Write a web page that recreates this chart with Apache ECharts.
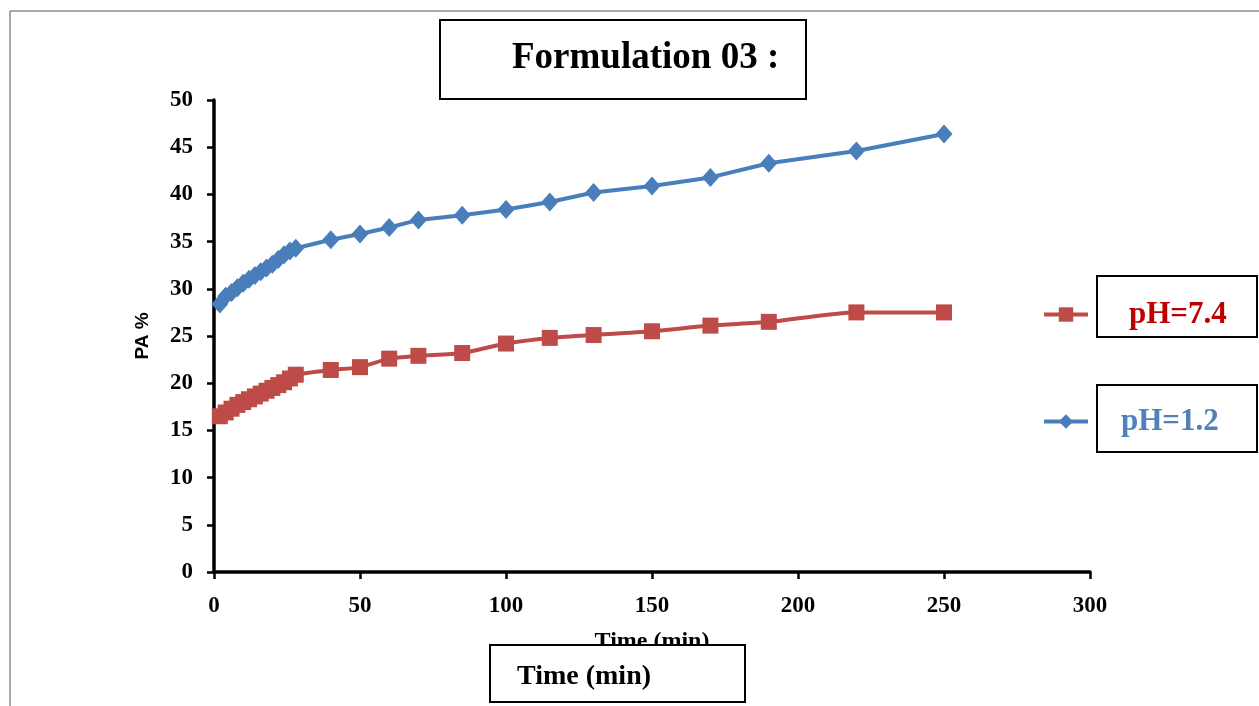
<!DOCTYPE html>
<html><head><meta charset="utf-8">
<script src="https://cdn.jsdelivr.net/npm/echarts@6/dist/echarts.min.js"></script>
<style>html,body{margin:0;padding:0;background:#fff}#c{width:1259px;height:706px}</style>
</head><body><div id="c"></div>
<script>
const titleText = "Formulation 03 :";
const xAxisName = "Time (min)";
const yAxisName = "PA %";
const seriesNames = ["pH=7.4", "pH=1.2"];
const times = [2,4,6,8,10,12,14,16,18,20,22,24,26,28,40,50,60,70,85,100,115,130,150,170,190,220,250];
const ph74 = [16.5,16.9,17.3,17.7,18.0,18.3,18.6,18.9,19.2,19.5,19.8,20.1,20.5,20.9,21.4,21.7,22.6,22.9,23.2,24.2,24.8,25.1,25.5,26.1,26.5,27.5,27.5];
const ph12 = [28.4,29.2,29.6,30.1,30.6,31.0,31.4,31.8,32.2,32.6,33.1,33.6,34.0,34.3,35.2,35.8,36.5,37.3,37.8,38.4,39.2,40.2,40.9,41.8,43.3,44.6,46.4];

const pair = (xs, ys) => xs.map((x, i) => [x, ys[i]]);
const serif = "'Liberation Serif','Times New Roman',serif";
const chart = echarts.init(document.getElementById('c'));
chart.setOption({
  animation: false,
  backgroundColor: '#fff',
  title: [
    {text: titleText, left: 507, top: 35, textStyle: {fontFamily: serif, fontWeight: 'bold', fontSize: 37, color: '#000'}},
    {text: xAxisName, left: 512, top: 658, z: 20, textStyle: {fontFamily: serif, fontWeight: 'bold', fontSize: 28, color: '#000'}}
  ],
  graphic: [
    {type: 'line', shape: {x1: 10, y1: 11, x2: 1259, y2: 11}, style: {stroke: '#8c8c8c', lineWidth: 1.5}, z: 1},
    {type: 'line', shape: {x1: 10, y1: 11, x2: 10, y2: 706}, style: {stroke: '#8c8c8c', lineWidth: 1.5}, z: 1},
    {type: 'rect', shape: {x: 440, y: 20, width: 366, height: 79}, style: {fill: '#fff', stroke: '#000', lineWidth: 2}, z: 1},
    {type: 'rect', shape: {x: 490, y: 645, width: 255, height: 57}, style: {fill: '#fff', stroke: '#000', lineWidth: 2}, z: 10},
    {type: 'rect', shape: {x: 1097, y: 276, width: 160, height: 61}, style: {fill: '#fff', stroke: '#000', lineWidth: 2}, z: 1},
    {type: 'rect', shape: {x: 1097, y: 385, width: 160, height: 67}, style: {fill: '#fff', stroke: '#000', lineWidth: 2}, z: 1}
  ],
  legend: [
    {data: [seriesNames[0]], left: 1037, top: 294, itemWidth: 44, itemHeight: 18, z: 5,
     lineStyle: {width: 4},
     textStyle: {fontFamily: serif, fontWeight: 'bold', fontSize: 31, color: '#C00000', padding: [0,0,0,36]}},
    {data: [seriesNames[1]], left: 1037, top: 401, itemWidth: 44, itemHeight: 18, z: 5,
     lineStyle: {width: 4},
     textStyle: {fontFamily: serif, fontWeight: 'bold', fontSize: 31, color: '#4F81BD', padding: [0,0,0,28]}}
  ],
  grid: {left: 214, top: 100, right: 169, bottom: 134},
  xAxis: {
    type: 'value', min: 0, max: 300, interval: 50,
    name: xAxisName, nameLocation: 'middle', nameGap: 58,
    nameTextStyle: {fontFamily: serif, fontWeight: 'bold', fontSize: 24, color: '#000'},
    axisLine: {lineStyle: {color: '#000', width: 3.5}},
    axisTick: {length: 7, lineStyle: {color: '#000', width: 2.5}},
    axisLabel: {margin: 23, fontFamily: serif, fontWeight: 'bold', fontSize: 23, color: '#000'},
    splitLine: {show: false}
  },
  yAxis: {
    type: 'value', min: 0, max: 50, interval: 5,
    name: yAxisName, nameLocation: 'middle', nameGap: 62,
    nameTextStyle: {fontFamily: "'Liberation Sans',Arial,sans-serif", fontWeight: 'bold', fontSize: 19, color: '#000'},
    axisLine: {show: true, lineStyle: {color: '#000', width: 3.5}},
    axisTick: {show: true, length: 7, lineStyle: {color: '#000', width: 2.5}},
    axisLabel: {margin: 21, fontFamily: serif, fontWeight: 'bold', fontSize: 23, color: '#000'},
    splitLine: {show: false}
  },
  series: [
    {name: seriesNames[0], type: 'line', data: pair(times, ph74), smooth: 0.25,
     symbol: 'rect', symbolSize: 16, itemStyle: {color: '#BE4B48'},
     lineStyle: {color: '#BE4B48', width: 4}},
    {name: seriesNames[1], type: 'line', data: pair(times, ph12),
     symbol: 'diamond', symbolSize: [17, 19], itemStyle: {color: '#4A7EBB'},
     lineStyle: {color: '#4A7EBB', width: 4}}
  ]
});
</script></body></html>
